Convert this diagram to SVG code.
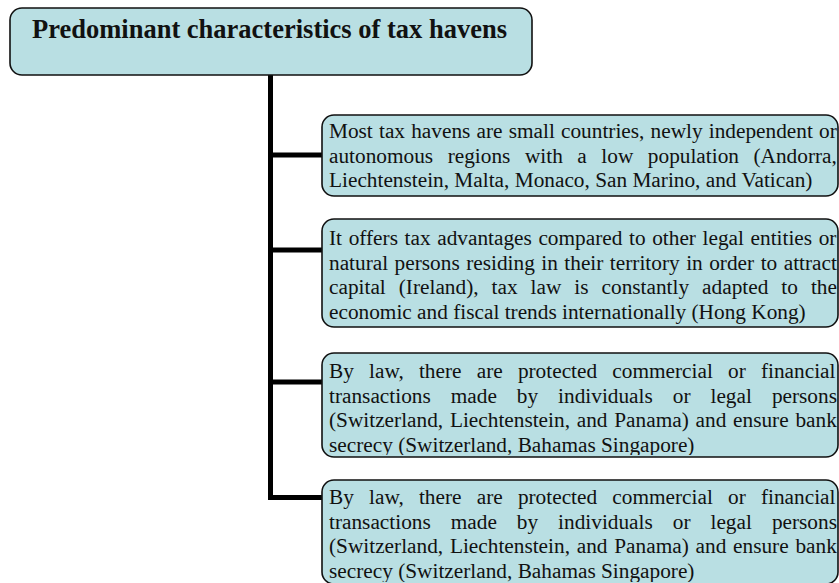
<svg xmlns="http://www.w3.org/2000/svg" width="839" height="583" viewBox="0 0 839 583">
<style>
.box{fill:#b9dfe3;stroke:#111;stroke-width:1.6}
.t{font-family:"Liberation Serif","Times New Roman",serif;font-size:21.3px;fill:#111}
.title{font-family:"Liberation Serif","Times New Roman",serif;font-size:26.5px;font-weight:bold;fill:#111}
.conn{stroke:#000;stroke-width:5;fill:none}
</style>
<defs>
<clipPath id="c3"><rect x="322" y="353" width="516" height="102"/></clipPath>
<clipPath id="c4"><rect x="322" y="480" width="516" height="102"/></clipPath>
</defs>
<rect width="839" height="583" fill="#fff"/>
<g id="connectors">
<path class="conn" d="M270.5 75 V500"/>
<path class="conn" d="M268 155 H322"/>
<path class="conn" d="M268 250 H322"/>
<path class="conn" d="M268 382 H322"/>
<path class="conn" d="M268 497.5 H322"/>
</g>
<g id="title">
<rect class="box" x="10" y="8" width="522" height="67" rx="12"/>
<text class="title" x="32" y="37.5">Predominant characteristics of tax havens</text>
</g>
<g id="node1">
<rect class="box" x="322" y="115" width="516" height="81" rx="12"/>
<text class="t" x="329" y="138" style="word-spacing:0.86px">Most tax havens are small countries, newly independent or</text>
<text class="t" x="329" y="162.5" style="word-spacing:9.23px">autonomous regions with a low population (Andorra,</text>
<text class="t" x="329" y="187">Liechtenstein, Malta, Monaco, San Marino, and Vatican)</text>
</g>
<g id="node2">
<rect class="box" x="322" y="219" width="516" height="108" rx="12"/>
<text class="t" x="329" y="245" style="word-spacing:1.3px">It offers tax advantages compared to other legal entities or</text>
<text class="t" x="329" y="269.5" style="word-spacing:1.17px">natural persons residing in their territory in order to attract</text>
<text class="t" x="329" y="294" style="word-spacing:7.68px">capital (Ireland), tax law is constantly adapted to the</text>
<text class="t" x="329" y="318.5">economic and fiscal trends internationally (Hong Kong)</text>
</g>
<g id="node3">
<rect class="box" x="322" y="353" width="516" height="104" rx="12"/>
<g clip-path="url(#c3)">
<text class="t" x="329" y="378" style="word-spacing:9.87px">By law, there are protected commercial or financial</text>
<text class="t" x="329" y="402.5" style="word-spacing:14.67px">transactions made by individuals or legal persons</text>
<text class="t" x="329" y="427" style="word-spacing:1.45px">(Switzerland, Liechtenstein, and Panama) and ensure bank</text>
<text class="t" x="329" y="451.5">secrecy (Switzerland, Bahamas Singapore)</text>
</g>
</g>
<g id="node4">
<rect class="box" x="322" y="480" width="516" height="104" rx="12"/>
<g clip-path="url(#c4)">
<text class="t" x="329" y="504" style="word-spacing:9.87px">By law, there are protected commercial or financial</text>
<text class="t" x="329" y="528.5" style="word-spacing:14.67px">transactions made by individuals or legal persons</text>
<text class="t" x="329" y="553" style="word-spacing:1.45px">(Switzerland, Liechtenstein, and Panama) and ensure bank</text>
<text class="t" x="329" y="577.5">secrecy (Switzerland, Bahamas Singapore)</text>
</g>
</g>
</svg>
